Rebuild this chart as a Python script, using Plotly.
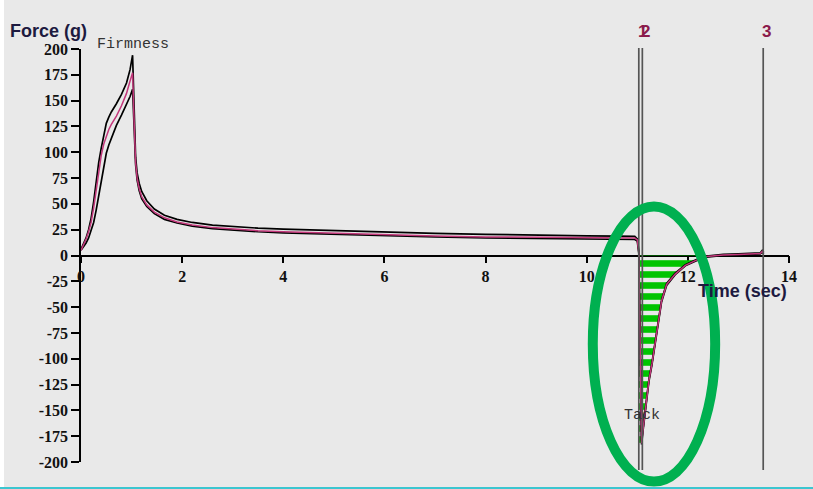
import plotly.graph_objects as go

# ---- texture analyser trace: time (s) and force (g) for three replicate runs ----
TIME_S = [0.00, 0.05, 0.10, 0.15, 0.20, 0.25, 0.30, 0.35, 0.40, 0.45,
          0.50, 0.55, 0.60, 0.70, 0.80, 0.90, 0.97, 1.02, 1.05, 1.08,
          1.11, 1.15, 1.20, 1.30, 1.45, 1.65, 1.90, 2.20, 2.60, 3.00,
          3.50, 4.00, 5.00, 6.00, 7.00, 8.00, 9.00, 10.00, 10.60, 10.95,
          11.00, 11.03, 11.06, 11.085, 11.12, 11.15, 11.19, 11.23, 11.29, 11.34,
          11.38, 11.44, 11.48, 11.58, 11.75, 11.95, 12.17, 12.37, 12.70, 13.00,
          13.43, 13.47, 13.50]

FORCE_UPPER_G = [6, 11, 17, 25, 36, 52, 72, 90, 104, 118,
                 128, 134, 139, 147, 156, 167, 180, 194, 140, 95,
                 80, 70, 62, 53, 45, 39, 35, 32, 29.5, 28,
                 26.5, 25.5, 24, 22.5, 21.5, 20.5, 19.5, 19, 18.8, 18.5,
                 16, 5, -95, -180, -165, -152, -136, -120, -104, -88,
                 -72, -55, -43, -27, -17, -9, -4, -0.5, 1, 1.5,
                 2.5, 5, 3]

FORCE_MID_G = [5, 10, 16, 23, 32, 46, 64, 82, 97, 108,
               116, 122, 127, 135, 145, 157, 169, 177, 130, 90,
               75, 65, 57, 49, 42, 36.5, 32.5, 29.5, 27, 25.5,
               24, 23, 21.5, 20, 19, 18, 17.5, 17, 16.5, 17,
               15, 3, -98, -182, -166, -153, -137, -121, -105, -89,
               -73, -56, -44, -28, -18, -9.5, -4.5, -1, 0.5, 1,
               2, 4, 2]

FORCE_LOWER_G = [5, 8, 12, 17, 24, 32, 44, 58, 74, 88,
                 99, 107, 114, 126, 136, 146, 154, 161, 126, 88,
                 73, 63, 55, 47.5, 40.5, 35, 31.5, 28.5, 26, 24.5,
                 23, 22, 20.5, 19, 18, 17, 16.5, 16, 15.5, 15.5,
                 14, 2, -100, -183, -167, -154, -138, -122, -106, -90,
                 -74, -57, -45, -29, -18.5, -10, -5, -1.5, 0, 0.5,
                 1.5, 3, 1.5]

X_TICKS = [0, 2, 4, 6, 8, 10, 12, 14]
X_TICK_LABELS = ["0", "2", "4", "6", "8", "10", "12", "14"]
Y_TICKS = [-200, -175, -150, -125, -100, -75, -50, -25, 0,
           25, 50, 75, 100, 125, 150, 175, 200]
Y_TICK_LABELS = ["-200", "-175", "-150", "-125", "-100", "-75", "-50", "-25", "0",
                 "25", "50", "75", "100", "125", "150", "175", "200"]

MARKER_TIMES = [11.03, 11.10, 13.49]
MARKER_LABELS = ["1", "2", "3"]

PEAK_LABELS = ["Firmness", "Tack"]
PEAK_LABEL_POS = [(1.02, 204), (11.09, -155)]

# ---- plot geometry ----
X_RANGE = [0, 14]
Y_RANGE = [-200, 200]
W, H = 813, 489
M_L, M_R, M_T, M_B = 81, 24, 49, 27
PLOT_W = W - M_L - M_R
PLOT_H = H - M_T - M_B


def px_to_paper_x(px):
    return (px - M_L) / PLOT_W


def px_to_paper_y(py):
    return (H - M_B - py) / PLOT_H


def data_to_paper_x(x):
    return (x - X_RANGE[0]) / (X_RANGE[1] - X_RANGE[0])


def data_to_paper_y(y):
    return (y - Y_RANGE[0]) / (Y_RANGE[1] - Y_RANGE[0])


SERIF = "Liberation Serif"
MONO = "Liberation Mono"
SANS = "Liberation Sans"

BG = "#E9E9E9"
INK = "#1d1a40"
MAROON = "#8B1A4B"
PINK = "#C2377A"
GREEN_FILL = "#00C400"
GREEN_RING = "#00B050"

fig = go.Figure()

# hatched area of the adhesive (negative) work, from marker 1 to the zero return
neg = [(t, f) for t, f in zip(TIME_S, FORCE_MID_G) if t >= 11.085 and f < 0]
last_neg = neg[-1]
i_last = TIME_S.index(last_neg[0])
t_a, f_a = TIME_S[i_last], FORCE_MID_G[i_last]
t_b, f_b = TIME_S[i_last + 1], FORCE_MID_G[i_last + 1]
t_zero = t_a + (0 - f_a) * (t_b - t_a) / (f_b - f_a)
fill_x = [MARKER_TIMES[0], MARKER_TIMES[0]] + [p[0] for p in neg] + [t_zero, MARKER_TIMES[0]]
fill_y = [0, neg[0][1]] + [p[1] for p in neg] + [0, 0]

fig.add_trace(go.Scatter(
    x=fill_x, y=fill_y, mode="lines", fill="toself",
    line=dict(width=0, color="rgba(0,0,0,0)"),
    fillcolor="rgba(0,0,0,0)",
    fillpattern=dict(shape="-", size=11, solidity=0.6, fgcolor=GREEN_FILL,
                     bgcolor="rgba(0,0,0,0)", fgopacity=1),
    hoverinfo="skip", showlegend=False,
))

for ys, col, wd in [(FORCE_LOWER_G, "black", 1.7), (FORCE_UPPER_G, "black", 1.7),
                    (FORCE_MID_G, PINK, 1.5)]:
    fig.add_trace(go.Scatter(x=TIME_S, y=ys, mode="lines",
                             line=dict(color=col, width=wd),
                             showlegend=False))

shapes = []
annotations = []

# cursor markers
for t, lab in zip(MARKER_TIMES, MARKER_LABELS):
    shapes.append(dict(type="line", xref="x", yref="paper", x0=t, x1=t,
                       y0=px_to_paper_y(470), y1=px_to_paper_y(48),
                       line=dict(color="#555555", width=1.7), layer="above"))
    annotations.append(dict(text="<b>" + lab + "</b>", xref="x", yref="paper", x=t,
                            y=px_to_paper_y(31.5), xshift=3.5, showarrow=False,
                            font=dict(family=SANS, size=17, color=MAROON),
                            xanchor="center", yanchor="middle"))

# highlight ring around the tack region
ring_x0, ring_x1 = 10.12, 12.54
ring_y0, ring_y1 = -219, 47.5
shapes.append(dict(type="circle", xref="paper", yref="paper",
                   x0=data_to_paper_x(ring_x0), x1=data_to_paper_x(ring_x1),
                   y0=data_to_paper_y(ring_y0), y1=data_to_paper_y(ring_y1),
                   line=dict(color=GREEN_RING, width=10), layer="above"))

# page edge details
shapes.append(dict(type="rect", xref="paper", yref="paper",
                   x0=px_to_paper_x(0), x1=px_to_paper_x(4),
                   y0=px_to_paper_y(H), y1=px_to_paper_y(0),
                   fillcolor="white", line=dict(width=0), layer="below"))
shapes.append(dict(type="line", xref="paper", yref="paper",
                   x0=px_to_paper_x(0), x1=px_to_paper_x(W),
                   y0=px_to_paper_y(488), y1=px_to_paper_y(488),
                   line=dict(color="#3CC6D0", width=2)))

# peak labels (paper y so a label sitting just above the range stays visible)
for text, (x, y) in zip(PEAK_LABELS, PEAK_LABEL_POS):
    annotations.append(dict(text=text, x=x, y=data_to_paper_y(y), xref="x", yref="paper",
                            showarrow=False,
                            font=dict(family=MONO, size=15, color="#333333"),
                            xanchor="center", yanchor="middle"))

annotations.append(dict(text="<b>Force (g)</b>", xref="paper", yref="paper",
                        x=px_to_paper_x(48.5), y=px_to_paper_y(31.5), showarrow=False,
                        font=dict(family=SANS, size=18, color=INK),
                        xanchor="center", yanchor="middle"))
annotations.append(dict(text="<b>Time (sec)</b>", xref="paper", yref="paper",
                        x=px_to_paper_x(742.5), y=px_to_paper_y(290.5), showarrow=False,
                        font=dict(family=SANS, size=18, color=INK),
                        xanchor="center", yanchor="middle"))

tick_font = dict(family=SERIF, size=16, color="#111111", weight="bold")

fig.update_layout(
    width=W, height=H,
    margin=dict(l=M_L, r=M_R, t=M_T, b=M_B, pad=0),
    paper_bgcolor=BG, plot_bgcolor=BG,
    showlegend=False,
    shapes=shapes, annotations=annotations,
    xaxis=dict(range=X_RANGE, anchor="free", position=0.5,
               showline=True, linecolor="black", linewidth=1.5,
               ticks="outside", ticklen=7, tickwidth=1.5, tickcolor="black",
               tickvals=X_TICKS, ticktext=X_TICK_LABELS, tickfont=tick_font,
               showgrid=False, zeroline=False, layer="below traces"),
    yaxis=dict(range=Y_RANGE,
               showline=True, linecolor="black", linewidth=1.5,
               ticks="outside", ticklen=8, tickwidth=1.5, tickcolor="black",
               tickvals=Y_TICKS, ticktext=Y_TICK_LABELS, tickfont=tick_font,
               showgrid=False, zeroline=False, layer="below traces"),
)

fig.write_html("out.html")
